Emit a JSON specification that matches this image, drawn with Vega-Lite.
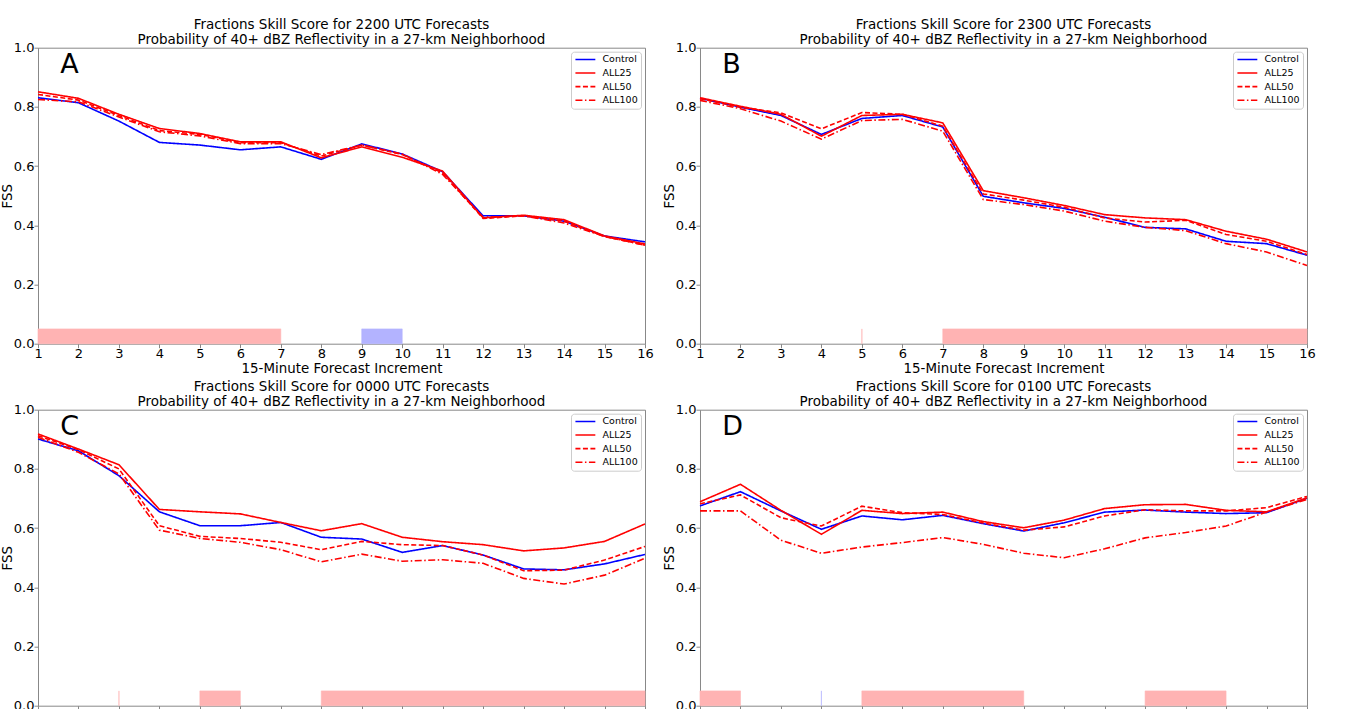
{
  "$schema": "https://vega.github.io/schema/vega-lite/v6.json",
  "background": "white",
  "padding": {"left": 0, "top": 17.7, "right": 0, "bottom": 0},
  "bounds": "flush",
  "columns": 2,
  "spacing": {"row": 66, "column": 55},
  "resolve": {"legend": {"color": "independent", "strokeDash": "independent"}},
  "config": {
    "font": "DejaVu Sans",
    "view": {"stroke": "#888888", "strokeWidth": 1},
    "axis": {"grid": false, "domain": false, "tickColor": "#888888", "tickSize": 4, "tickWidth": 1, "labelColor": "black", "labelFontSize": 13, "labelPadding": 0, "labelFlush": false, "labelOverlap": false, "titleFontSize": 13.4, "titleFontWeight": "normal", "titleColor": "black", "labelFont": "DejaVu Sans", "titleFont": "DejaVu Sans"},
    "axisX": {"titlePadding": 0.5},
    "axisY": {"titlePadding": -1.4},
    "title": {"fontSize": 13.5, "fontWeight": "normal", "font": "DejaVu Sans", "lineHeight": 15, "baseline": "alphabetic", "offset": -5.1, "anchor": "middle", "frame": "group", "color": "black"},
    "legend": {"orient": "top-right", "offset": 4, "padding": 3, "fillColor": "white", "strokeColor": "#cccccc", "cornerRadius": 3, "labelFontSize": 9.5, "labelFont": "DejaVu Sans", "labelColor": "black", "symbolType": "M-1,0H5", "symbolSize": 44, "symbolStrokeWidth": 1.6, "labelOffset": 19, "rowPadding": 2.6, "title": null}
  },
  "datasets": {
    "fss": [
      {"p": "A", "x": 1, "Control": 0.831, "ALL25": 0.851, "ALL50": 0.842, "ALL100": 0.825},
      {"p": "A", "x": 2, "Control": 0.814, "ALL25": 0.829, "ALL50": 0.823, "ALL100": 0.817},
      {"p": "A", "x": 3, "Control": 0.752, "ALL25": 0.775, "ALL50": 0.771, "ALL100": 0.766},
      {"p": "A", "x": 4, "Control": 0.680, "ALL25": 0.727, "ALL50": 0.720, "ALL100": 0.716},
      {"p": "A", "x": 5, "Control": 0.671, "ALL25": 0.710, "ALL50": 0.707, "ALL100": 0.702},
      {"p": "A", "x": 6, "Control": 0.655, "ALL25": 0.682, "ALL50": 0.679, "ALL100": 0.676},
      {"p": "A", "x": 7, "Control": 0.665, "ALL25": 0.682, "ALL50": 0.679, "ALL100": 0.676},
      {"p": "A", "x": 8, "Control": 0.623, "ALL25": 0.628, "ALL50": 0.634, "ALL100": 0.639},
      {"p": "A", "x": 9, "Control": 0.675, "ALL25": 0.665, "ALL50": 0.671, "ALL100": 0.671},
      {"p": "A", "x": 10, "Control": 0.641, "ALL25": 0.630, "ALL50": 0.639, "ALL100": 0.641},
      {"p": "A", "x": 11, "Control": 0.581, "ALL25": 0.583, "ALL50": 0.577, "ALL100": 0.572},
      {"p": "A", "x": 12, "Control": 0.432, "ALL25": 0.425, "ALL50": 0.423, "ALL100": 0.427},
      {"p": "A", "x": 13, "Control": 0.432, "ALL25": 0.434, "ALL50": 0.432, "ALL100": 0.432},
      {"p": "A", "x": 14, "Control": 0.414, "ALL25": 0.419, "ALL50": 0.414, "ALL100": 0.408},
      {"p": "A", "x": 15, "Control": 0.364, "ALL25": 0.364, "ALL50": 0.362, "ALL100": 0.362},
      {"p": "A", "x": 16, "Control": 0.344, "ALL25": 0.337, "ALL50": 0.333, "ALL100": 0.333},
      {"p": "B", "x": 1, "Control": 0.829, "ALL25": 0.831, "ALL50": 0.828, "ALL100": 0.822},
      {"p": "B", "x": 2, "Control": 0.799, "ALL25": 0.802, "ALL50": 0.799, "ALL100": 0.794},
      {"p": "B", "x": 3, "Control": 0.771, "ALL25": 0.775, "ALL50": 0.780, "ALL100": 0.752},
      {"p": "B", "x": 4, "Control": 0.707, "ALL25": 0.701, "ALL50": 0.726, "ALL100": 0.691},
      {"p": "B", "x": 5, "Control": 0.761, "ALL25": 0.771, "ALL50": 0.781, "ALL100": 0.754},
      {"p": "B", "x": 6, "Control": 0.771, "ALL25": 0.775, "ALL50": 0.775, "ALL100": 0.758},
      {"p": "B", "x": 7, "Control": 0.732, "ALL25": 0.746, "ALL50": 0.735, "ALL100": 0.718},
      {"p": "B", "x": 8, "Control": 0.498, "ALL25": 0.517, "ALL50": 0.506, "ALL100": 0.487},
      {"p": "B", "x": 9, "Control": 0.476, "ALL25": 0.493, "ALL50": 0.485, "ALL100": 0.470},
      {"p": "B", "x": 10, "Control": 0.457, "ALL25": 0.467, "ALL50": 0.461, "ALL100": 0.448},
      {"p": "B", "x": 11, "Control": 0.427, "ALL25": 0.436, "ALL50": 0.425, "ALL100": 0.414},
      {"p": "B", "x": 12, "Control": 0.393, "ALL25": 0.425, "ALL50": 0.411, "ALL100": 0.393},
      {"p": "B", "x": 13, "Control": 0.388, "ALL25": 0.419, "ALL50": 0.417, "ALL100": 0.382},
      {"p": "B", "x": 14, "Control": 0.346, "ALL25": 0.380, "ALL50": 0.369, "ALL100": 0.338},
      {"p": "B", "x": 15, "Control": 0.338, "ALL25": 0.353, "ALL50": 0.346, "ALL100": 0.310},
      {"p": "B", "x": 16, "Control": 0.299, "ALL25": 0.310, "ALL50": 0.301, "ALL100": 0.264},
      {"p": "C", "x": 1, "Control": 0.901, "ALL25": 0.918, "ALL50": 0.912, "ALL100": 0.907},
      {"p": "C", "x": 2, "Control": 0.861, "ALL25": 0.867, "ALL50": 0.865, "ALL100": 0.856},
      {"p": "C", "x": 3, "Control": 0.777, "ALL25": 0.814, "ALL50": 0.800, "ALL100": 0.783},
      {"p": "C", "x": 4, "Control": 0.655, "ALL25": 0.663, "ALL50": 0.608, "ALL100": 0.593},
      {"p": "C", "x": 5, "Control": 0.608, "ALL25": 0.655, "ALL50": 0.572, "ALL100": 0.565},
      {"p": "C", "x": 6, "Control": 0.608, "ALL25": 0.648, "ALL50": 0.565, "ALL100": 0.552},
      {"p": "C", "x": 7, "Control": 0.619, "ALL25": 0.619, "ALL50": 0.552, "ALL100": 0.527},
      {"p": "C", "x": 8, "Control": 0.569, "ALL25": 0.591, "ALL50": 0.527, "ALL100": 0.486},
      {"p": "C", "x": 9, "Control": 0.563, "ALL25": 0.615, "ALL50": 0.555, "ALL100": 0.512},
      {"p": "C", "x": 10, "Control": 0.518, "ALL25": 0.569, "ALL50": 0.544, "ALL100": 0.488},
      {"p": "C", "x": 11, "Control": 0.541, "ALL25": 0.554, "ALL50": 0.541, "ALL100": 0.493},
      {"p": "C", "x": 12, "Control": 0.509, "ALL25": 0.544, "ALL50": 0.509, "ALL100": 0.481},
      {"p": "C", "x": 13, "Control": 0.462, "ALL25": 0.523, "ALL50": 0.456, "ALL100": 0.430},
      {"p": "C", "x": 14, "Control": 0.459, "ALL25": 0.533, "ALL50": 0.458, "ALL100": 0.411},
      {"p": "C", "x": 15, "Control": 0.479, "ALL25": 0.555, "ALL50": 0.492, "ALL100": 0.441},
      {"p": "C", "x": 16, "Control": 0.511, "ALL25": 0.614, "ALL50": 0.538, "ALL100": 0.498},
      {"p": "D", "x": 1, "Control": 0.675, "ALL25": 0.689, "ALL50": 0.682, "ALL100": 0.658},
      {"p": "D", "x": 2, "Control": 0.723, "ALL25": 0.748, "ALL50": 0.712, "ALL100": 0.658},
      {"p": "D", "x": 3, "Control": 0.658, "ALL25": 0.660, "ALL50": 0.635, "ALL100": 0.559},
      {"p": "D", "x": 4, "Control": 0.596, "ALL25": 0.579, "ALL50": 0.607, "ALL100": 0.515},
      {"p": "D", "x": 5, "Control": 0.641, "ALL25": 0.660, "ALL50": 0.674, "ALL100": 0.536},
      {"p": "D", "x": 6, "Control": 0.628, "ALL25": 0.649, "ALL50": 0.652, "ALL100": 0.551},
      {"p": "D", "x": 7, "Control": 0.643, "ALL25": 0.654, "ALL50": 0.646, "ALL100": 0.568},
      {"p": "D", "x": 8, "Control": 0.615, "ALL25": 0.622, "ALL50": 0.617, "ALL100": 0.545},
      {"p": "D", "x": 9, "Control": 0.590, "ALL25": 0.601, "ALL50": 0.593, "ALL100": 0.515},
      {"p": "D", "x": 10, "Control": 0.618, "ALL25": 0.627, "ALL50": 0.604, "ALL100": 0.500},
      {"p": "D", "x": 11, "Control": 0.654, "ALL25": 0.666, "ALL50": 0.641, "ALL100": 0.530},
      {"p": "D", "x": 12, "Control": 0.661, "ALL25": 0.679, "ALL50": 0.662, "ALL100": 0.567},
      {"p": "D", "x": 13, "Control": 0.654, "ALL25": 0.680, "ALL50": 0.658, "ALL100": 0.585},
      {"p": "D", "x": 14, "Control": 0.649, "ALL25": 0.660, "ALL50": 0.658, "ALL100": 0.607},
      {"p": "D", "x": 15, "Control": 0.652, "ALL25": 0.655, "ALL50": 0.669, "ALL100": 0.654},
      {"p": "D", "x": 16, "Control": 0.701, "ALL25": 0.702, "ALL50": 0.707, "ALL100": 0.697}
    ],
    "shade": [
      {"p": "A", "start": 1, "end": 7, "g": "experiment"},
      {"p": "A", "start": 9, "end": 10, "g": "control"},
      {"p": "B", "start": 5, "end": 5, "g": "experiment"},
      {"p": "B", "start": 7, "end": 16, "g": "experiment"},
      {"p": "C", "start": 3, "end": 3, "g": "experiment"},
      {"p": "C", "start": 5, "end": 6, "g": "experiment"},
      {"p": "C", "start": 8, "end": 16, "g": "experiment"},
      {"p": "D", "start": 1, "end": 2, "g": "experiment"},
      {"p": "D", "start": 4, "end": 4, "g": "control"},
      {"p": "D", "start": 5, "end": 9, "g": "experiment"},
      {"p": "D", "start": 12, "end": 14, "g": "experiment"}
    ],
    "letters": [
      {"p": "A", "letter": "A"},
      {"p": "B", "letter": "B"},
      {"p": "C", "letter": "C"},
      {"p": "D", "letter": "D"}
    ]
  },
  "concat": [
    {
      "width": 607, "height": 296,
      "title": {"text": ["Fractions Skill Score for 2200 UTC Forecasts", "Probability of 40+ dBZ Reflectivity in a 27-km Neighborhood"]},
      "layer": [
        {"data": {"name": "shade"}, "transform": [{"filter": "datum.p === 'A'"}],
         "mark": {"type": "rect", "strokeWidth": 0.6},
         "encoding": {
           "x": {"field": "start", "type": "quantitative", "scale": {"domain": [1, 16], "nice": false, "zero": false}, "axis": {"values": [1,2,3,4,5,6,7,8,9,10,11,12,13,14,15,16], "title": "15-Minute Forecast Increment", "format": "d"}},
           "x2": {"field": "end"},
           "y": {"datum": 0, "type": "quantitative", "scale": {"domain": [0, 1], "nice": false}, "axis": {"values": [0, 0.2, 0.4, 0.6, 0.8, 1], "format": ".1f", "title": "FSS"}},
           "y2": {"datum": 0.05},
           "fill": {"field": "g", "type": "nominal", "scale": {"domain": ["experiment", "control"], "range": ["#ffb3b3", "#b3b3ff"]}, "legend": null},
           "stroke": {"field": "g", "type": "nominal", "scale": {"domain": ["experiment", "control"], "range": ["#ffb3b3", "#b3b3ff"]}, "legend": null}
         }},
        {"data": {"name": "fss"}, "transform": [{"filter": "datum.p === 'A'"}, {"fold": ["Control", "ALL25", "ALL50", "ALL100"], "as": ["series", "fss"]}],
         "mark": {"type": "line", "strokeWidth": 1.6},
         "encoding": {
           "x": {"field": "x", "type": "quantitative"},
           "y": {"field": "fss", "type": "quantitative"},
           "color": {"field": "series", "type": "nominal", "scale": {"domain": ["Control", "ALL25", "ALL50", "ALL100"], "range": ["#0000ff", "#ff0000", "#ff0000", "#ff0000"]}},
           "strokeDash": {"field": "series", "type": "nominal", "scale": {"domain": ["Control", "ALL25", "ALL50", "ALL100"], "range": [[1, 0], [1, 0], [5, 2.5], [7, 2.5, 1.5, 2.5]]}}
         }},
        {"data": {"name": "letters"}, "transform": [{"filter": "datum.p === 'A'"}],
         "mark": {"type": "text", "fontSize": 27, "align": "left", "baseline": "alphabetic", "font": "DejaVu Sans", "color": "black"},
         "encoding": {"x": {"datum": 1.55, "type": "quantitative"}, "y": {"datum": 0.915, "type": "quantitative"}, "text": {"field": "letter"}}}
      ]
    },
    {
      "width": 607, "height": 296,
      "title": {"text": ["Fractions Skill Score for 2300 UTC Forecasts", "Probability of 40+ dBZ Reflectivity in a 27-km Neighborhood"]},
      "layer": [
        {"data": {"name": "shade"}, "transform": [{"filter": "datum.p === 'B'"}],
         "mark": {"type": "rect", "strokeWidth": 0.6},
         "encoding": {
           "x": {"field": "start", "type": "quantitative", "scale": {"domain": [1, 16], "nice": false, "zero": false}, "axis": {"values": [1,2,3,4,5,6,7,8,9,10,11,12,13,14,15,16], "title": "15-Minute Forecast Increment", "format": "d"}},
           "x2": {"field": "end"},
           "y": {"datum": 0, "type": "quantitative", "scale": {"domain": [0, 1], "nice": false}, "axis": {"values": [0, 0.2, 0.4, 0.6, 0.8, 1], "format": ".1f", "title": "FSS"}},
           "y2": {"datum": 0.05},
           "fill": {"field": "g", "type": "nominal", "scale": {"domain": ["experiment", "control"], "range": ["#ffb3b3", "#b3b3ff"]}, "legend": null},
           "stroke": {"field": "g", "type": "nominal", "scale": {"domain": ["experiment", "control"], "range": ["#ffb3b3", "#b3b3ff"]}, "legend": null}
         }},
        {"data": {"name": "fss"}, "transform": [{"filter": "datum.p === 'B'"}, {"fold": ["Control", "ALL25", "ALL50", "ALL100"], "as": ["series", "fss"]}],
         "mark": {"type": "line", "strokeWidth": 1.6},
         "encoding": {
           "x": {"field": "x", "type": "quantitative"},
           "y": {"field": "fss", "type": "quantitative"},
           "color": {"field": "series", "type": "nominal", "scale": {"domain": ["Control", "ALL25", "ALL50", "ALL100"], "range": ["#0000ff", "#ff0000", "#ff0000", "#ff0000"]}},
           "strokeDash": {"field": "series", "type": "nominal", "scale": {"domain": ["Control", "ALL25", "ALL50", "ALL100"], "range": [[1, 0], [1, 0], [5, 2.5], [7, 2.5, 1.5, 2.5]]}}
         }},
        {"data": {"name": "letters"}, "transform": [{"filter": "datum.p === 'B'"}],
         "mark": {"type": "text", "fontSize": 27, "align": "left", "baseline": "alphabetic", "font": "DejaVu Sans", "color": "black"},
         "encoding": {"x": {"datum": 1.55, "type": "quantitative"}, "y": {"datum": 0.915, "type": "quantitative"}, "text": {"field": "letter"}}}
      ]
    },
    {
      "width": 607, "height": 296,
      "title": {"text": ["Fractions Skill Score for 0000 UTC Forecasts", "Probability of 40+ dBZ Reflectivity in a 27-km Neighborhood"]},
      "layer": [
        {"data": {"name": "shade"}, "transform": [{"filter": "datum.p === 'C'"}],
         "mark": {"type": "rect", "strokeWidth": 0.6},
         "encoding": {
           "x": {"field": "start", "type": "quantitative", "scale": {"domain": [1, 16], "nice": false, "zero": false}, "axis": {"values": [1,2,3,4,5,6,7,8,9,10,11,12,13,14,15,16], "labels": false, "title": null}},
           "x2": {"field": "end"},
           "y": {"datum": 0, "type": "quantitative", "scale": {"domain": [0, 1], "nice": false}, "axis": {"values": [0, 0.2, 0.4, 0.6, 0.8, 1], "format": ".1f", "title": "FSS"}},
           "y2": {"datum": 0.05},
           "fill": {"field": "g", "type": "nominal", "scale": {"domain": ["experiment", "control"], "range": ["#ffb3b3", "#b3b3ff"]}, "legend": null},
           "stroke": {"field": "g", "type": "nominal", "scale": {"domain": ["experiment", "control"], "range": ["#ffb3b3", "#b3b3ff"]}, "legend": null}
         }},
        {"data": {"name": "fss"}, "transform": [{"filter": "datum.p === 'C'"}, {"fold": ["Control", "ALL25", "ALL50", "ALL100"], "as": ["series", "fss"]}],
         "mark": {"type": "line", "strokeWidth": 1.6},
         "encoding": {
           "x": {"field": "x", "type": "quantitative"},
           "y": {"field": "fss", "type": "quantitative"},
           "color": {"field": "series", "type": "nominal", "scale": {"domain": ["Control", "ALL25", "ALL50", "ALL100"], "range": ["#0000ff", "#ff0000", "#ff0000", "#ff0000"]}},
           "strokeDash": {"field": "series", "type": "nominal", "scale": {"domain": ["Control", "ALL25", "ALL50", "ALL100"], "range": [[1, 0], [1, 0], [5, 2.5], [7, 2.5, 1.5, 2.5]]}}
         }},
        {"data": {"name": "letters"}, "transform": [{"filter": "datum.p === 'C'"}],
         "mark": {"type": "text", "fontSize": 27, "align": "left", "baseline": "alphabetic", "font": "DejaVu Sans", "color": "black"},
         "encoding": {"x": {"datum": 1.55, "type": "quantitative"}, "y": {"datum": 0.915, "type": "quantitative"}, "text": {"field": "letter"}}}
      ]
    },
    {
      "width": 607, "height": 296,
      "title": {"text": ["Fractions Skill Score for 0100 UTC Forecasts", "Probability of 40+ dBZ Reflectivity in a 27-km Neighborhood"]},
      "layer": [
        {"data": {"name": "shade"}, "transform": [{"filter": "datum.p === 'D'"}],
         "mark": {"type": "rect", "strokeWidth": 0.6},
         "encoding": {
           "x": {"field": "start", "type": "quantitative", "scale": {"domain": [1, 16], "nice": false, "zero": false}, "axis": {"values": [1,2,3,4,5,6,7,8,9,10,11,12,13,14,15,16], "labels": false, "title": null}},
           "x2": {"field": "end"},
           "y": {"datum": 0, "type": "quantitative", "scale": {"domain": [0, 1], "nice": false}, "axis": {"values": [0, 0.2, 0.4, 0.6, 0.8, 1], "format": ".1f", "title": "FSS"}},
           "y2": {"datum": 0.05},
           "fill": {"field": "g", "type": "nominal", "scale": {"domain": ["experiment", "control"], "range": ["#ffb3b3", "#b3b3ff"]}, "legend": null},
           "stroke": {"field": "g", "type": "nominal", "scale": {"domain": ["experiment", "control"], "range": ["#ffb3b3", "#b3b3ff"]}, "legend": null}
         }},
        {"data": {"name": "fss"}, "transform": [{"filter": "datum.p === 'D'"}, {"fold": ["Control", "ALL25", "ALL50", "ALL100"], "as": ["series", "fss"]}],
         "mark": {"type": "line", "strokeWidth": 1.6},
         "encoding": {
           "x": {"field": "x", "type": "quantitative"},
           "y": {"field": "fss", "type": "quantitative"},
           "color": {"field": "series", "type": "nominal", "scale": {"domain": ["Control", "ALL25", "ALL50", "ALL100"], "range": ["#0000ff", "#ff0000", "#ff0000", "#ff0000"]}},
           "strokeDash": {"field": "series", "type": "nominal", "scale": {"domain": ["Control", "ALL25", "ALL50", "ALL100"], "range": [[1, 0], [1, 0], [5, 2.5], [7, 2.5, 1.5, 2.5]]}}
         }},
        {"data": {"name": "letters"}, "transform": [{"filter": "datum.p === 'D'"}],
         "mark": {"type": "text", "fontSize": 27, "align": "left", "baseline": "alphabetic", "font": "DejaVu Sans", "color": "black"},
         "encoding": {"x": {"datum": 1.55, "type": "quantitative"}, "y": {"datum": 0.915, "type": "quantitative"}, "text": {"field": "letter"}}}
      ]
    }
  ]
}
